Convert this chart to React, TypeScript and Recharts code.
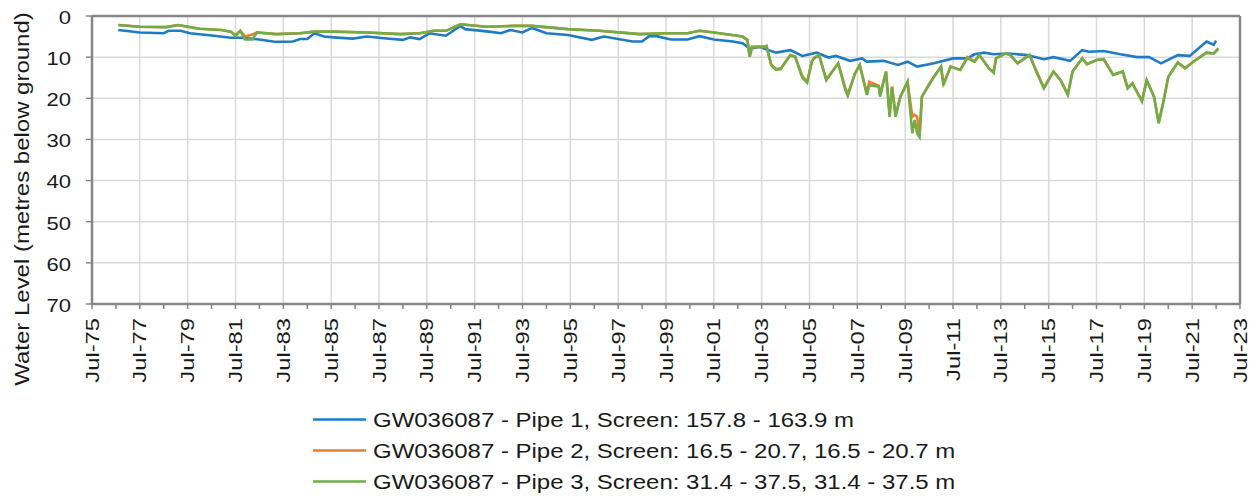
import React from "react";
import { LineChart, Line, XAxis, YAxis, CartesianGrid, Legend, ReferenceLine } from "recharts";

// ---- data (decimal year, metres below ground) ----
const pipe1Readings: [number, number][] = [
  [1976.6, 3.4], [1977.5, 4.0], [1978.5, 4.2], [1978.7, 3.6], [1979.2, 3.6], [1979.6, 4.2], [1980.6, 4.8],
  [1981.3, 5.3], [1981.7, 5.3], [1982.5, 5.7], [1983.2, 6.3], [1983.9, 6.2], [1984.2, 5.6], [1984.5, 5.6],
  [1984.8, 4.2], [1985.2, 5.0], [1985.6, 5.2], [1986.4, 5.5], [1987.0, 5.0], [1987.7, 5.4], [1988.5, 5.8],
  [1988.8, 5.2], [1989.2, 5.6], [1989.6, 4.2], [1990.3, 4.8], [1990.9, 2.4], [1991.1, 3.2], [1992.1, 3.8],
  [1992.6, 4.2], [1993.0, 3.4], [1993.5, 4.0], [1993.9, 2.9], [1994.5, 4.2], [1995.4, 4.6], [1996.4, 5.8],
  [1996.9, 5.0], [1998.1, 6.2], [1998.5, 6.2], [1998.8, 4.9], [1999.1, 4.9], [1999.7, 5.7], [2000.4, 5.7],
  [2000.9, 4.9], [2001.5, 5.7], [2002.3, 6.2], [2002.7, 6.6], [2003.0, 7.9], [2003.4, 7.5], [2004.1, 8.9],
  [2004.7, 8.3], [2005.2, 9.7], [2005.8, 8.9], [2006.3, 10.1], [2006.6, 9.7], [2007.2, 10.9], [2007.7, 10.3],
  [2007.9, 11.1], [2008.6, 10.9], [2009.2, 11.9], [2009.6, 11.1], [2010.0, 12.3], [2010.7, 11.5], [2011.5, 10.3],
  [2012.1, 10.3], [2012.4, 9.3], [2012.8, 8.9], [2013.2, 9.3], [2013.8, 9.1], [2014.6, 9.5], [2015.3, 10.5],
  [2015.7, 10.0], [2016.4, 10.9], [2016.9, 8.3], [2017.2, 8.7], [2017.8, 8.5], [2018.5, 9.3], [2019.2, 10.0],
  [2019.7, 10.0], [2020.2, 11.5], [2020.9, 9.5], [2021.4, 9.7], [2022.1, 6.2], [2022.4, 7.0], [2022.5, 6.0],
];

const pipe2Readings: [number, number][] = [
  [1976.6, 2.2], [1977.5, 2.6], [1978.6, 2.7], [1979.1, 2.2], [1979.5, 2.6], [1980.0, 3.1], [1980.9, 3.4],
  [1981.3, 3.8], [1981.5, 4.6], [1981.7, 3.6], [1981.9, 5.0], [1982.2, 4.5], [1982.4, 4.0], [1983.2, 4.4],
  [1984.2, 4.2], [1984.8, 3.8], [1985.6, 3.8], [1987.0, 4.0], [1988.4, 4.4], [1989.2, 4.2], [1989.8, 3.6],
  [1990.3, 3.6], [1990.9, 2.0], [1992.0, 2.6], [1993.1, 2.4], [1993.9, 2.4], [1995.4, 3.2], [1996.7, 3.6],
  [1998.4, 4.4], [1999.5, 4.2], [2000.4, 4.2], [2000.9, 3.6], [2001.5, 4.0], [2002.7, 5.0], [2002.9, 5.8],
  [2003.0, 9.9], [2003.1, 7.5], [2003.6, 7.5], [2003.7, 7.3], [2003.9, 11.8], [2004.1, 12.9], [2004.3, 12.7],
  [2004.7, 9.5], [2004.9, 9.9], [2005.2, 14.6], [2005.4, 16.0], [2005.6, 11.0], [2005.7, 10.1], [2005.9, 9.5],
  [2006.2, 15.4], [2006.5, 13.1], [2006.7, 11.5], [2007.0, 17.6], [2007.1, 19.0], [2007.4, 14.0], [2007.6, 11.9],
  [2007.9, 18.8], [2008.0, 16.0], [2008.4, 17.0], [2008.45, 19.2], [2008.7, 13.5], [2008.85, 24.0], [2008.95, 17.2],
  [2009.1, 24.0], [2009.3, 19.6], [2009.6, 16.0], [2009.8, 24.5], [2009.9, 24.0], [2010.0, 24.5], [2010.1, 28.8],
  [2010.2, 19.6], [2010.5, 16.5], [2010.7, 14.8], [2011.0, 12.3], [2011.1, 16.5], [2011.4, 12.3], [2011.8, 13.1],
  [2012.1, 10.0], [2012.4, 11.1], [2012.6, 9.5], [2013.0, 12.7], [2013.2, 13.6], [2013.3, 10.3], [2013.7, 9.1],
  [2013.9, 9.5], [2014.2, 11.5], [2014.7, 9.5], [2015.0, 13.5], [2015.3, 17.4], [2015.7, 13.5], [2016.0, 15.6],
  [2016.3, 19.0], [2016.5, 13.5], [2016.9, 10.3], [2017.1, 11.7], [2017.5, 10.7], [2017.8, 10.5], [2018.2, 14.3],
  [2018.6, 13.5], [2018.8, 17.4], [2019.0, 16.4], [2019.4, 20.6], [2019.6, 15.6], [2019.9, 19.4], [2020.1, 25.8],
  [2020.3, 20.8], [2020.5, 14.8], [2020.9, 11.3], [2021.2, 12.7], [2021.5, 11.3], [2022.1, 8.9], [2022.4, 9.1],
  [2022.6, 7.9],
];

const pipe3Readings: [number, number][] = [
  [1976.6, 2.2], [1977.5, 2.6], [1978.6, 2.7], [1979.1, 2.2], [1979.5, 2.6], [1980.0, 3.1], [1980.9, 3.4],
  [1981.3, 3.8], [1981.5, 4.9], [1981.7, 3.6], [1981.9, 5.7], [1982.2, 5.7], [1982.4, 4.0], [1983.2, 4.4],
  [1984.2, 4.2], [1984.8, 3.8], [1985.6, 3.8], [1987.0, 4.0], [1988.4, 4.4], [1989.2, 4.2], [1989.8, 3.6],
  [1990.3, 3.6], [1990.9, 2.0], [1992.0, 2.6], [1993.1, 2.4], [1993.9, 2.4], [1995.4, 3.2], [1996.7, 3.6],
  [1998.4, 4.4], [1999.5, 4.2], [2000.4, 4.2], [2000.9, 3.6], [2001.5, 4.0], [2002.7, 5.0], [2002.9, 5.8],
  [2003.0, 9.9], [2003.1, 7.5], [2003.6, 7.5], [2003.7, 7.3], [2003.9, 12.0], [2004.1, 13.1], [2004.3, 12.9],
  [2004.7, 9.5], [2004.9, 9.9], [2005.2, 15.0], [2005.4, 16.2], [2005.6, 11.0], [2005.7, 10.3], [2005.9, 9.5],
  [2006.2, 15.6], [2006.5, 13.1], [2006.7, 11.5], [2007.0, 18.0], [2007.1, 19.4], [2007.4, 14.0], [2007.6, 11.9],
  [2007.9, 19.2], [2008.0, 16.8], [2008.4, 17.2], [2008.45, 19.6], [2008.7, 13.5], [2008.85, 24.5], [2008.95, 17.2],
  [2009.1, 24.5], [2009.3, 19.6], [2009.6, 16.0], [2009.8, 28.5], [2009.9, 25.3], [2010.0, 28.5], [2010.1, 29.4],
  [2010.2, 19.6], [2010.5, 16.8], [2010.7, 14.8], [2011.0, 12.3], [2011.1, 16.8], [2011.4, 12.3], [2011.8, 13.1],
  [2012.1, 10.3], [2012.4, 11.1], [2012.6, 9.5], [2013.0, 12.7], [2013.2, 13.8], [2013.3, 10.3], [2013.7, 9.1],
  [2013.9, 9.5], [2014.2, 11.5], [2014.7, 9.5], [2015.0, 13.8], [2015.3, 17.6], [2015.7, 13.5], [2016.0, 15.6],
  [2016.3, 19.2], [2016.5, 13.5], [2016.9, 10.3], [2017.1, 11.7], [2017.5, 10.7], [2017.8, 10.5], [2018.2, 14.3],
  [2018.6, 13.5], [2018.8, 17.6], [2019.0, 16.4], [2019.4, 20.8], [2019.6, 15.6], [2019.9, 19.6], [2020.1, 26.1],
  [2020.3, 20.8], [2020.5, 14.8], [2020.9, 11.3], [2021.2, 12.7], [2021.5, 11.3], [2022.1, 8.9], [2022.4, 9.1],
  [2022.6, 7.9],
];

const seriesNames = [
  "GW036087 - Pipe 1, Screen: 157.8 - 163.9 m",
  "GW036087 - Pipe 2, Screen: 16.5 - 20.7, 16.5 - 20.7 m",
  "GW036087 - Pipe 3, Screen: 31.4 - 37.5, 31.4 - 37.5 m",
];
const seriesColors = ["#1f7cc4", "#ED7D31", "#70AD47"];

// x ticks: Jul of every year (minor), labelled every 2 years (major)
const majorTicks = [
  1975.5, 1977.5, 1979.5, 1981.5, 1983.5, 1985.5, 1987.5, 1989.5, 1991.5, 1993.5, 1995.5, 1997.5, 1999.5,
  2001.5, 2003.5, 2005.5, 2007.5, 2009.5, 2011.5, 2013.5, 2015.5, 2017.5, 2019.5, 2021.5, 2023.5,
];
const minorTicks = [
  1975.5, 1976.5, 1977.5, 1978.5, 1979.5, 1980.5, 1981.5, 1982.5, 1983.5, 1984.5, 1985.5, 1986.5, 1987.5,
  1988.5, 1989.5, 1990.5, 1991.5, 1992.5, 1993.5, 1994.5, 1995.5, 1996.5, 1997.5, 1998.5, 1999.5, 2000.5,
  2001.5, 2002.5, 2003.5, 2004.5, 2005.5, 2006.5, 2007.5, 2008.5, 2009.5, 2010.5, 2011.5, 2012.5, 2013.5,
  2014.5, 2015.5, 2016.5, 2017.5, 2018.5, 2019.5, 2020.5, 2021.5, 2022.5, 2023.5,
];
const yTicks = [0, 10, 20, 30, 40, 50, 60, 70];
const yAxisTitle = "Water Level (metres below ground)";

const toRows = (r: [number, number][]) => r.map(([t, v]) => ({ t, v }));
const series = [pipe1Readings, pipe2Readings, pipe3Readings].map(toRows);

const FONT = "'Liberation Sans', Arial, sans-serif";
const AXIS = "#868686";
const TEXT = "#1a1a1a";

const fmtTick = (v: number) => {
  const yr = Math.floor(v);
  return "Jul-" + String(yr % 100).padStart(2, "0");
};

const XTick = (props: any) => {
  const { x, y, payload } = props;
  const v = payload.value;
  if (!majorTicks.some((m) => Math.abs(m - v) < 1e-6)) return null;
  return (
    <g transform={`translate(${x},${y})`}>
      <text
        transform="rotate(-90) scale(1.25,1)"
        textAnchor="end"
        dy="0.35em"
        fontSize={19}
        fontFamily={FONT}
        fill={TEXT}
      >
        {fmtTick(v)}
      </text>
    </g>
  );
};

const YTick = (props: any) => {
  const { x, y, payload } = props;
  return (
    <g transform={`translate(${x},${y + 1})`}>
      <text transform="scale(1.16,1)" textAnchor="end" dy="0.36em" fontSize={19} fontFamily={FONT} fill={TEXT}>
        {payload.value}
      </text>
    </g>
  );
};

const YLabel = (props: any) => {
  const vb = props.viewBox || { x: 0, y: 16, width: 84, height: 288 };
  const cx = vb.x + 14;
  const cy = vb.y + vb.height / 2 + 39;
  return (
    <text
      transform={`translate(${cx},${cy}) rotate(-90) scale(1.23,1)`}
      textAnchor="middle"
      dy="0.36em"
      fontSize={19.5}
      fontFamily={FONT}
      fill={TEXT}
    >
      {yAxisTitle}
    </text>
  );
};

const LegendContent = () => (
  <div style={{ display: "flex", flexDirection: "column" }}>
    {seriesNames.map((name, i) => (
      <svg key={name} width={720} height={31} style={{ display: "block" }}>
        <line x1={3} x2={56} y1={15.5} y2={15.5} stroke={seriesColors[i]} strokeWidth={2.5} />
        <text
          transform="translate(63,22.5) scale(1.23,1)"
          fontSize={19.5}
          fontFamily={FONT}
          fill={TEXT}
        >
          {name}
        </text>
      </svg>
    ))}
  </div>
);

export default function App() {
  return (
    <div style={{ marginTop: -8, width: 1250, height: 497 }}>
      <LineChart width={1250} height={497} margin={{ top: 16, right: 18, bottom: 0, left: 0 }}>
        <CartesianGrid stroke="#d9d9d9" strokeWidth={1.5} verticalValues={majorTicks} horizontalValues={yTicks} />
        <XAxis
          dataKey="t"
          type="number"
          domain={[1975.5, 2023.5]}
          ticks={minorTicks}
          interval={0}
          allowDuplicatedCategory={false}
          height={100}
          tickSize={5}
          tickMargin={9}
          stroke={AXIS}
          axisLine={{ stroke: AXIS, strokeWidth: 2.5 }}
          tickLine={{ stroke: AXIS, strokeWidth: 1.5 }}
          tick={<XTick />}
        />
        <YAxis
          type="number"
          domain={[0, 70]}
          reversed
          ticks={yTicks}
          interval={0}
          width={84}
          tickSize={6}
          tickMargin={15}
          axisLine={{ stroke: AXIS, strokeWidth: 2.5 }}
          tickLine={{ stroke: AXIS, strokeWidth: 1.5 }}
          tick={<YTick />}
          label={<YLabel />}
        />
        <ReferenceLine y={0} stroke={AXIS} strokeWidth={2.5} />
        <ReferenceLine x={2023.5} stroke={AXIS} strokeWidth={2.5} />
        {series.map((rows, i) => (
          <Line
            key={seriesNames[i]}
            data={rows}
            dataKey="v"
            name={seriesNames[i]}
            type="linear"
            stroke={seriesColors[i]}
            strokeWidth={2.6}
            dot={false}
            activeDot={false}
            isAnimationActive={false}
          />
        ))}
        <Legend
          verticalAlign="bottom"
          height={93}
          content={<LegendContent />}
          wrapperStyle={{ left: 302, width: 720 }}
        />
      </LineChart>
    </div>
  );
}
